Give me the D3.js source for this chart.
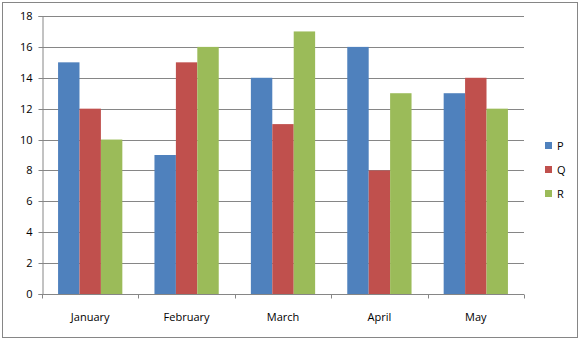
<!DOCTYPE html>
<html lang="en">
<head>
<meta charset="UTF-8" />
<title>Grouped bars</title>
<script src="https://cdn.jsdelivr.net/npm/d3@7"></script>
<style>
    body { margin: 0; background: #fff; }
    text { font-family: 'Open Sans', 'Liberation Sans', sans-serif; font-size: 11px; fill: #000; }
</style>
</head>
<body>
<svg width="581" height="341"></svg>
<script>
    const months = ["January", "February", "March", "April", "May"];
    const seriesNames = ["P", "Q", "R"];
    const valuesP = [15, 9, 14, 16, 13];
    const valuesQ = [12, 15, 11, 8, 14];
    const valuesR = [10, 16, 17, 13, 12];
    const yTicks = [0, 2, 4, 6, 8, 10, 12, 14, 16, 18];
    const colors = ["#4F81BD", "#C0504D", "#9BBB59"];

    const allValues = [valuesP, valuesQ, valuesR];
    const svg = d3.select("svg");

    // chart frame
    svg.append("rect")
        .attr("x", 2.5).attr("y", 2.5)
        .attr("width", 575).attr("height", 335)
        .attr("fill", "#fff")
        .attr("stroke", "#868686");

    const plot = { left: 42, right: 524, top: 16, bottom: 294 };

    const x = d3.scaleBand()
        .domain(months)
        .range([plot.left, plot.right]);

    const inner = d3.scaleBand()
        .domain(seriesNames)
        .range([0, x.bandwidth() * 3 / 4.5]);

    const y = d3.scaleLinear()
        .domain([0, 18])
        .range([plot.bottom, plot.top]);

    // gridlines
    svg.append("g")
        .selectAll("line")
        .data(yTicks.filter(t => t > 0))
        .enter().append("line")
        .attr("x1", plot.left).attr("x2", plot.right)
        .attr("y1", d => Math.round(y(d)) + 0.5)
        .attr("y2", d => Math.round(y(d)) + 0.5)
        .attr("stroke", "#868686");

    // bars
    const groups = svg.append("g")
        .selectAll("g")
        .data(months)
        .enter().append("g")
        .attr("transform", d => `translate(${x(d) + x.bandwidth() * 0.75 / 4.5},0)`);

    groups.selectAll("rect")
        .data((m, i) => seriesNames.map((s, j) => ({ s: s, v: allValues[j][i], c: colors[j] })))
        .enter().append("rect")
        .attr("x", d => inner(d.s))
        .attr("width", inner.bandwidth())
        .attr("y", d => y(d.v))
        .attr("height", d => y(0) - y(d.v))
        .attr("fill", d => d.c);

    // y axis
    const yAxis = svg.append("g")
        .attr("transform", `translate(${plot.left + 0.5},0)`)
        .call(d3.axisLeft(y).tickValues(yTicks).tickSize(4).tickPadding(6));
    yAxis.select(".domain").attr("stroke", "#868686");
    yAxis.selectAll(".tick line").attr("stroke", "#868686");
    yAxis.selectAll(".tick").attr("transform", d => `translate(0,${Math.round(y(d)) + 0.5})`);
    yAxis.selectAll("text").attr("fill", "#000").style("font-size", "11px");

    // x axis
    const xAxis = svg.append("g")
        .attr("transform", `translate(0,${plot.bottom + 0.5})`);
    xAxis.append("line")
        .attr("x1", plot.left).attr("x2", plot.right)
        .attr("stroke", "#868686");
    xAxis.selectAll(".tk")
        .data(months.map(m => x(m)).concat([plot.right]))
        .enter().append("line")
        .attr("x1", d => Math.round(d) + 0.5).attr("x2", d => Math.round(d) + 0.5)
        .attr("y1", 0).attr("y2", 4)
        .attr("stroke", "#868686");
    xAxis.selectAll("text")
        .data(months)
        .enter().append("text")
        .attr("x", d => x(d) + x.bandwidth() / 2)
        .attr("y", 26)
        .attr("text-anchor", "middle")
        .text(d => d);

    // legend
    const legend = svg.append("g")
        .selectAll("g")
        .data(seriesNames)
        .enter().append("g")
        .attr("transform", (d, i) => `translate(545,${142 + i * 24})`);
    legend.append("rect")
        .attr("width", 7).attr("height", 7)
        .attr("fill", (d, i) => colors[i]);
    legend.append("text")
        .attr("x", 12).attr("y", 7.5)
        .text(d => d);
</script>
</body>
</html>
